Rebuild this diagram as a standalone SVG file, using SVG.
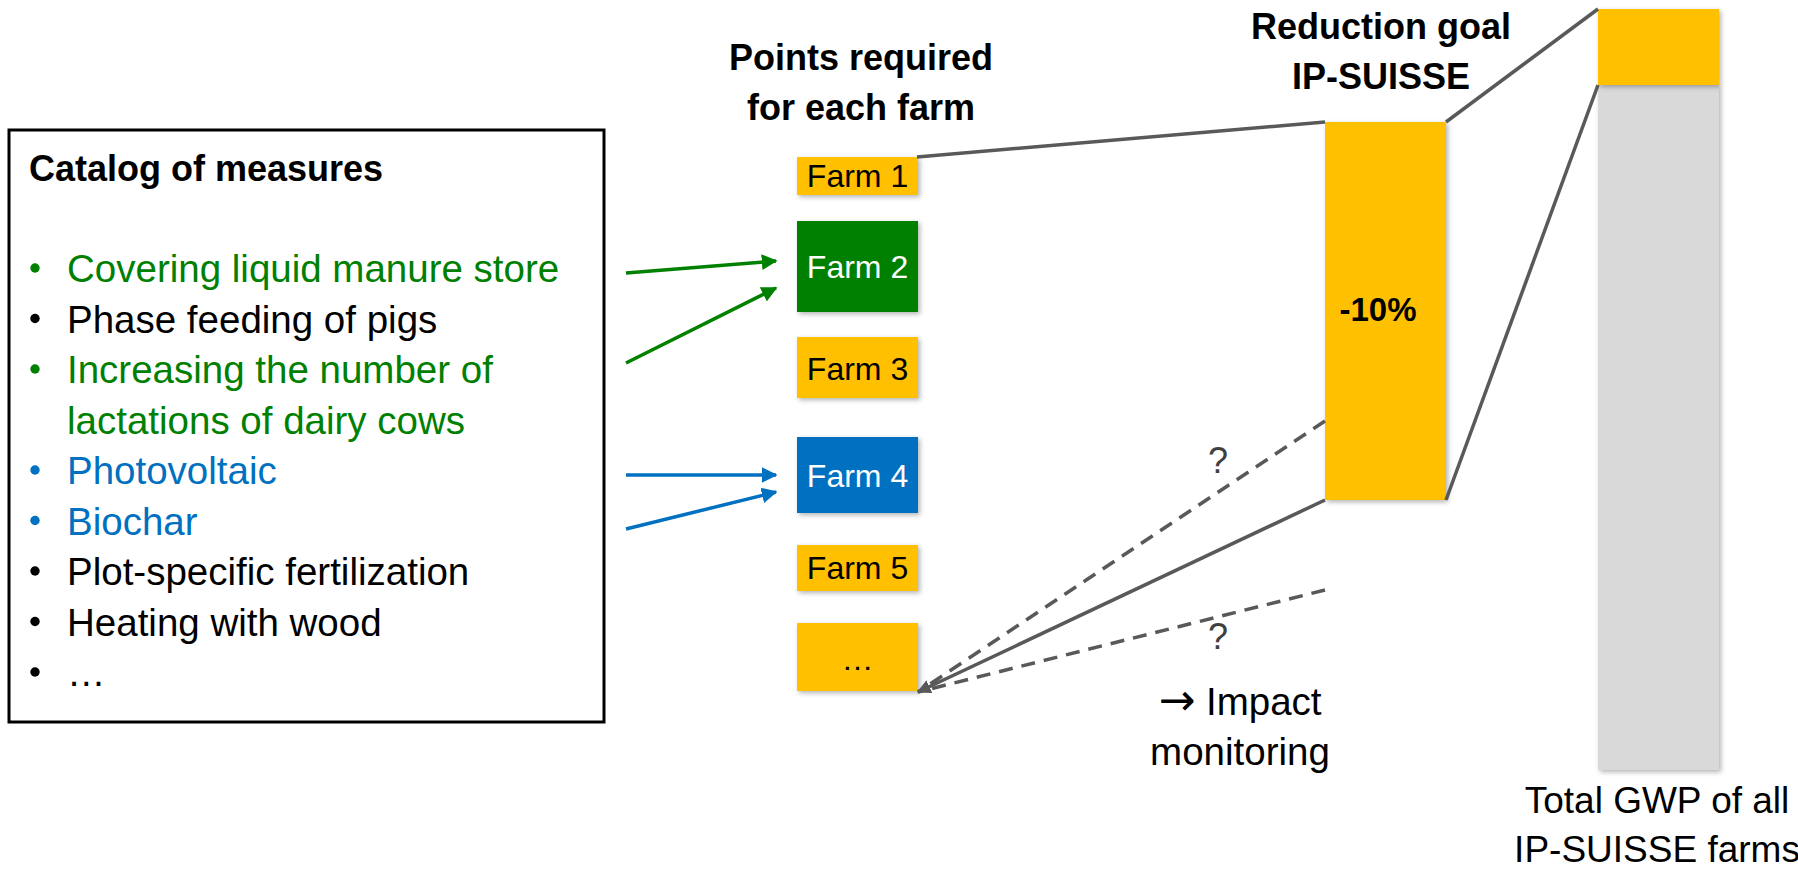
<svg xmlns="http://www.w3.org/2000/svg" width="1798" height="869" viewBox="0 0 1798 869">
<style>
text{font-family:"Liberation Sans",Arial,sans-serif;}
.b{font-weight:bold;font-size:36px;fill:#000;}
.item{font-size:38.5px;}
.blk{fill:#000;}
.grn{fill:#008000;}
.blu{fill:#0070C0;}
.farm{font-size:32px;text-anchor:middle;}
.mid{text-anchor:middle;}
.yel{fill:#FFC000;}
.gl{stroke:#595959;stroke-width:3.5;fill:none;}
.dash{stroke-dasharray:14 9;}
.ga{stroke:#008000;stroke-width:3.5;fill:none;}
.ba{stroke:#0070C0;stroke-width:3.5;fill:none;}
.q{font-size:36px;fill:#404040;text-anchor:middle;}
</style>
<defs>
<filter id="sh" x="-20%" y="-20%" width="140%" height="140%">
<feDropShadow dx="2" dy="2" stdDeviation="2.5" flood-color="#000" flood-opacity="0.3"/>
</filter>
<marker id="mg" viewBox="0 0 10 10" refX="9" refY="5" markerWidth="4.5" markerHeight="4.5" orient="auto" markerUnits="strokeWidth">
<path d="M0,0 L10,5 L0,10 z" fill="#008000"/>
</marker>
<marker id="mb" viewBox="0 0 10 10" refX="9" refY="5" markerWidth="4.5" markerHeight="4.5" orient="auto" markerUnits="strokeWidth">
<path d="M0,0 L10,5 L0,10 z" fill="#0070C0"/>
</marker>
<marker id="mgr" viewBox="0 0 10 10" refX="9" refY="5" markerWidth="4" markerHeight="4" orient="auto" markerUnits="strokeWidth">
<path d="M0,0 L10,5 L0,10 z" fill="#595959"/>
</marker>
</defs>
<rect width="1798" height="869" fill="#fff"/>

<g id="catalog">
<rect x="9" y="130" width="595" height="592" fill="#fff" stroke="#000" stroke-width="3"/>
<text class="b" x="29" y="181">Catalog of measures</text>
<g class="item">
<circle cx="35" cy="268" r="4.7" class="grn"/><text x="67" y="282" class="grn">Covering liquid manure store</text>
<circle cx="35" cy="318.5" r="4.7" class="blk"/><text x="67" y="332.5" class="blk">Phase feeding of pigs</text>
<circle cx="35" cy="369" r="4.7" class="grn"/><text x="67" y="383" class="grn">Increasing the number of</text>
<text x="67" y="433.5" class="grn">lactations of dairy cows</text>
<circle cx="35" cy="470" r="4.7" class="blu"/><text x="67" y="484" class="blu">Photovoltaic</text>
<circle cx="35" cy="520.5" r="4.7" class="blu"/><text x="67" y="534.5" class="blu">Biochar</text>
<circle cx="35" cy="571" r="4.7" class="blk"/><text x="67" y="585" class="blk">Plot-specific fertilization</text>
<circle cx="35" cy="621.5" r="4.7" class="blk"/><text x="67" y="635.5" class="blk">Heating with wood</text>
<circle cx="35" cy="672" r="4.7" class="blk"/><text x="67" y="686" class="blk">…</text>
</g>
</g>

<g id="farms-header">
<text class="b mid" x="861" y="70">Points required</text>
<text class="b mid" x="861" y="120">for each farm</text>
</g>

<g id="farm1"><rect x="797" y="157" width="121" height="38" class="yel" filter="url(#sh)"/><text class="farm" x="857.5" y="187">Farm 1</text></g>
<g id="farm2"><rect x="797" y="221" width="121" height="91" fill="#008000" filter="url(#sh)"/><text class="farm" x="857.5" y="278" fill="#fff">Farm 2</text></g>
<g id="farm3"><rect x="797" y="337" width="121" height="61" class="yel" filter="url(#sh)"/><text class="farm" x="857.5" y="380">Farm 3</text></g>
<g id="farm4"><rect x="797" y="437" width="121" height="76" fill="#0070C0" filter="url(#sh)"/><text class="farm" x="857.5" y="487" fill="#fff">Farm 4</text></g>
<g id="farm5"><rect x="797" y="545" width="121" height="46" class="yel" filter="url(#sh)"/><text class="farm" x="857.5" y="579">Farm 5</text></g>
<g id="farm-more"><rect x="797" y="623" width="121" height="68" class="yel" filter="url(#sh)"/><text class="farm" x="857.5" y="670">…</text></g>

<g id="reduction">
<text class="b mid" x="1381" y="39">Reduction goal</text>
<text class="b mid" x="1381" y="89">IP-SUISSE</text>
<rect x="1325" y="122" width="121" height="378" class="yel" filter="url(#sh)"/>
<text class="mid" x="1378" y="321" font-weight="bold" font-size="33">-10%</text>
</g>

<g id="gwp">
<rect x="1598" y="85" width="121" height="685" fill="#D9D9D9" filter="url(#sh)"/>
<rect x="1598" y="9" width="121" height="76" class="yel" filter="url(#sh)"/>
<text class="mid" x="1657" y="813" font-size="37">Total GWP of all</text>
<text class="mid" x="1657" y="862" font-size="37">IP-SUISSE farms</text>
</g>

<g id="monitoring">
<text class="mid" x="1240" y="715" font-size="38.5"><tspan font-family="DejaVu Sans, sans-serif" font-size="44">→</tspan> Impact</text>
<text class="mid" x="1240" y="765" font-size="38.5">monitoring</text>
<text x="1218" y="473" class="q">?</text>
<text x="1218" y="649" class="q">?</text>
</g>

<g id="connectors">
<line x1="626" y1="273" x2="776" y2="261" class="ga" marker-end="url(#mg)"/>
<line x1="626" y1="363" x2="776" y2="288" class="ga" marker-end="url(#mg)"/>
<line x1="626" y1="475" x2="776" y2="475" class="ba" marker-end="url(#mb)"/>
<line x1="626" y1="529" x2="776" y2="492" class="ba" marker-end="url(#mb)"/>
<line x1="917" y1="157" x2="1325" y2="122" class="gl"/>
<line x1="1446" y1="122" x2="1598" y2="9" class="gl"/>
<line x1="1446" y1="500" x2="1598" y2="85" class="gl"/>
<line x1="1325" y1="500" x2="918" y2="692" class="gl" marker-end="url(#mgr)"/>
<line x1="1325" y1="421" x2="918" y2="692" class="gl dash"/>
<line x1="1325" y1="590" x2="918" y2="692" class="gl dash"/>
</g>
</svg>
